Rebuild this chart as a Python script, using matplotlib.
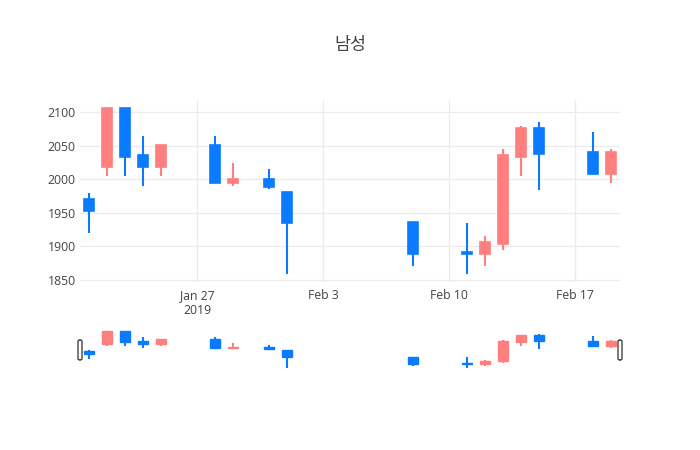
import matplotlib
matplotlib.use("Agg")
import matplotlib.pyplot as plt
import matplotlib.dates as mdates
from matplotlib.patches import Rectangle, FancyBboxPatch
import datetime as dt

plt.rcParams['font.family'] = ['Open Sans', 'Noto Sans CJK KR', 'DejaVu Sans']

dates = ["2019-01-21", "2019-01-22", "2019-01-23", "2019-01-24", "2019-01-25",
         "2019-01-28", "2019-01-29", "2019-01-31", "2019-02-01", "2019-02-08",
         "2019-02-11", "2019-02-12", "2019-02-13", "2019-02-14", "2019-02-15",
         "2019-02-18", "2019-02-19"]
opens = [1971, 2018, 2106, 2036, 2018, 2051, 1994, 2001, 1981, 1936,
         1891, 1889, 1904, 2033, 2077, 2041, 2008]
highs = [1979, 2106, 2106, 2065, 2051, 2064, 2024, 2015, 1981, 1936,
         1934, 1915, 2045, 2079, 2085, 2070, 2045]
lows = [1920, 2005, 2005, 1990, 2005, 1994, 1990, 1985, 1859, 1870,
        1859, 1870, 1895, 2005, 1984, 2008, 1995]
closes = [1953, 2106, 2033, 2018, 2051, 1994, 2001, 1988, 1934, 1889,
          1889, 1906, 2036, 2077, 2038, 2008, 2041]
yticks = [1850, 1900, 1950, 2000, 2050, 2100]
xtick_dates = ["2019-01-27", "2019-02-03", "2019-02-10", "2019-02-17"]
xtick_labels = ["Jan 27\n2019", "Feb 3", "Feb 10", "Feb 17"]
title = "남성"

UP = "#FF7F7F"
DOWN = "#0A7BFF"
TXT = "#444444"
GRID = "#EBEBEB"

W, H = 700, 450
fig = plt.figure(figsize=(7, 4.5), dpi=100)

def rect(l, t, r, b):
    return [l / W, 1 - b / H, (r - l) / W, (b - t) / H]

ax = fig.add_axes(rect(80, 100, 620, 282))
sl = fig.add_axes(rect(80, 329, 620, 370))

xd = [mdates.date2num(dt.datetime.strptime(d, "%Y-%m-%d")) for d in dates]
x0 = mdates.date2num(dt.datetime(2019, 1, 20, 12))
x1 = mdates.date2num(dt.datetime(2019, 2, 19, 12))
lo = min(lows); hi = max(highs); pad = (hi - lo) * 0.05
ylim = (lo - pad, hi + pad)

def draw(a, wick_lw, box_lw):
    w = 0.6
    for x, o, h, l, c in zip(xd, opens, highs, lows, closes):
        col = UP if c >= o else DOWN
        a.plot([x, x], [l, h], color=col, lw=wick_lw, solid_capstyle='butt', zorder=2)
        bot = min(o, c); ht = abs(c - o)
        a.add_patch(Rectangle((x - w / 2, bot), w, ht, facecolor=col,
                              edgecolor=col, lw=box_lw, zorder=3))
    a.set_xlim(x0, x1)
    a.set_ylim(*ylim)

draw(ax, 1.5, 1.2)
draw(sl, 1.5, 1.0)

for a in (ax, sl):
    for s in a.spines.values():
        s.set_visible(False)

ax.set_yticks(yticks)
ax.set_yticklabels([str(v) for v in yticks])
xt = [mdates.date2num(dt.datetime.strptime(d, "%Y-%m-%d")) for d in xtick_dates]
ax.set_xticks(xt)
ax.set_xticklabels(xtick_labels, linespacing=1.25)
ax.grid(True, color=GRID, lw=0.9, zorder=0)
ax.set_axisbelow(True)
ax.tick_params(axis='both', length=0, colors=TXT, labelsize=8.8)
ax.tick_params(axis='y', pad=3)
ax.tick_params(axis='x', pad=5)
for lab in ax.get_xticklabels() + ax.get_yticklabels():
    lab.set_color(TXT)

sl.set_xticks([]); sl.set_yticks([])
sl.patch.set_alpha(0)

# range slider handles
for hx in (80, 620):
    hpos = rect(hx - 2, 340, hx + 2, 360)
    p = FancyBboxPatch((hpos[0], hpos[1]), hpos[2], hpos[3],
                       boxstyle="round,pad=0,rounding_size=0.003",
                       transform=fig.transFigure, facecolor="white",
                       edgecolor=TXT, lw=1.0, zorder=5)
    fig.patches.append(p)

fig.text(0.5, 1 - 45 / H, title, ha='center', va='center', fontsize=12.5,
         color=TXT, family=['Noto Sans CJK KR', 'DejaVu Sans'])

fig.savefig("out.png", dpi=100, facecolor="white")
